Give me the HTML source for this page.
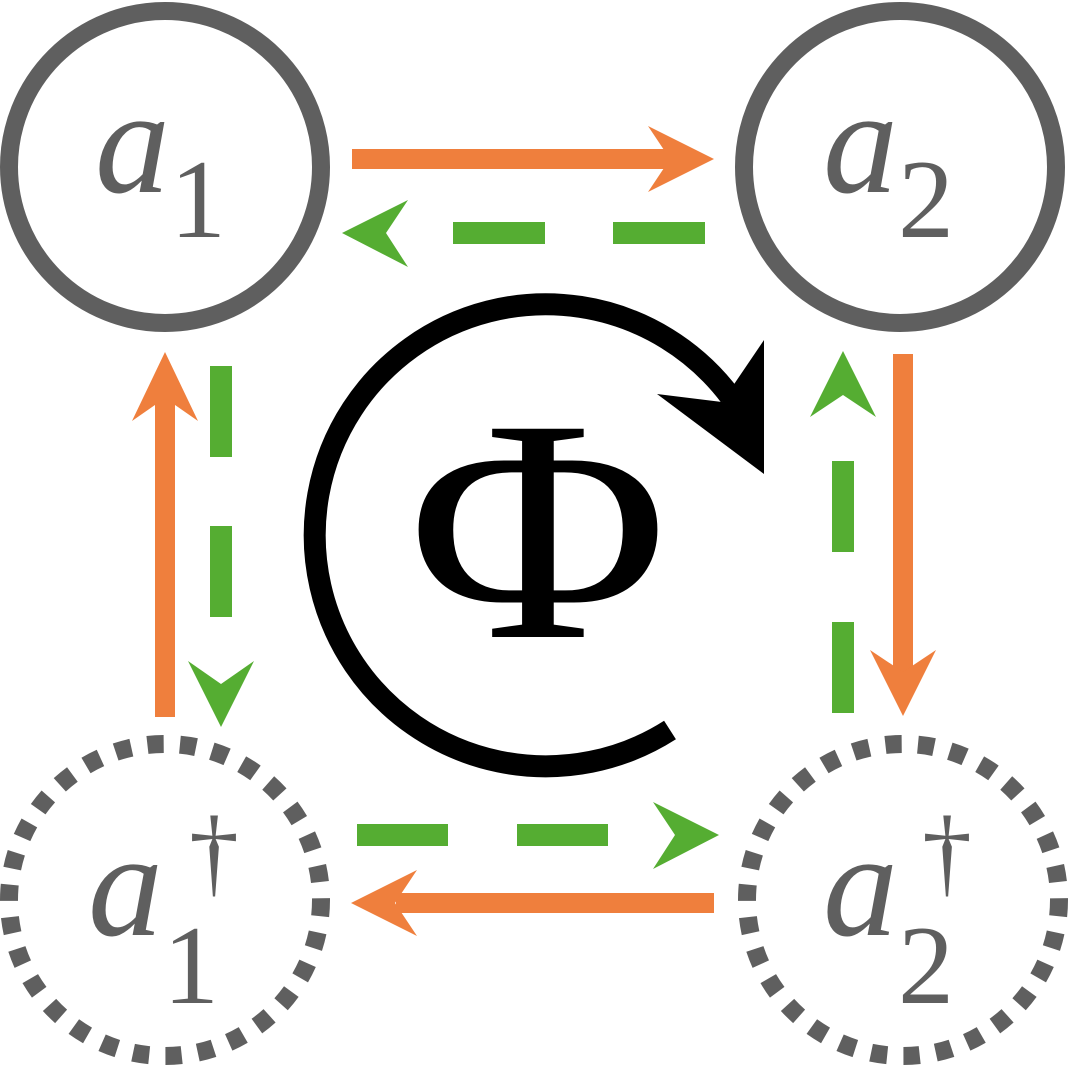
<!DOCTYPE html>
<html><head><meta charset="utf-8"><style>html,body{margin:0;padding:0;background:#fff}svg{display:block}</style></head>
<body>
<svg width="1071" height="1070" viewBox="0 0 1071 1070" xmlns="http://www.w3.org/2000/svg">
<g fill="none" stroke="#5f5f5f" stroke-width="18">
<circle cx="165" cy="167" r="156"/>
<circle cx="900" cy="167" r="156"/>
<circle cx="165" cy="900" r="156" stroke-dasharray="16.3 16.3"/>
<circle cx="903" cy="900" r="156" stroke-dasharray="16.3 16.3"/>
</g>
<g stroke="#ef7f3d" stroke-width="20" fill="#ef7f3d">
<line x1="352" y1="159" x2="672" y2="159"/>
<line x1="903" y1="354" x2="903" y2="674"/>
<line x1="714" y1="903" x2="396" y2="903"/>
<line x1="165" y1="717" x2="165" y2="398"/>
</g>
<g fill="#ef7f3d">
<polygon points="714,159 648,126 670,159 648,192"/>
<polygon points="903,716 870,650 903,672 936,650"/>
<polygon points="351,903 417,870 395,903 417,936"/>
<polygon points="165,352 132,421 165,398 198,421"/>
</g>
<g stroke="#55ad32" stroke-width="22">
<g><line x1="705" y1="233" x2="613" y2="233"/><line x1="545" y1="233" x2="453" y2="233"/></g>
<g><line x1="221" y1="366" x2="221" y2="457"/><line x1="221" y1="526" x2="221" y2="617"/></g>
<g><line x1="357" y1="835" x2="448" y2="835"/><line x1="517" y1="835" x2="608" y2="835"/></g>
<g><line x1="843" y1="713" x2="843" y2="622"/><line x1="843" y1="552" x2="843" y2="461"/></g>
</g>
<g fill="#55ad32">
<polygon points="342,233 408,200 386,233 408,267"/>
<polygon points="221,727 188,661 221,684 254,661"/>
<polygon points="719,835 653,802 675,835 653,869"/>
<polygon points="843,351 810,417 843,395 876,417"/>
</g>
<g>
<path d="M670,727 A231,231 0 1 1 730,393" fill="none" stroke="#000" stroke-width="22" transform="translate(0,3)"/>
<polygon points="764,340 764,474 657,394 722,402" fill="#000"/>
</g>
<text transform="translate(538,637) scale(1.12,1)" text-anchor="middle" font-family="Liberation Serif, serif" font-size="318" fill="#000">Φ</text>
<g font-family="Liberation Serif, serif" fill="#5f5f5f">
<text x="95" y="192" font-style="italic" font-size="150">a<tspan font-style="normal" font-size="112" dy="45">1</tspan></text>
<text x="823" y="192" font-style="italic" font-size="150">a<tspan font-style="normal" font-size="112" dy="45">2</tspan></text>
<text x="88" y="935" font-style="italic" font-size="150">a<tspan font-style="normal" font-size="112" dy="68">1</tspan></text>
<text x="214" y="885" text-anchor="middle" font-size="100">†</text>
<text x="823" y="935" font-style="italic" font-size="150">a<tspan font-style="normal" font-size="112" dy="68">2</tspan></text>
<text x="947" y="885" text-anchor="middle" font-size="100">†</text>
</g>
</svg>
</body></html>
